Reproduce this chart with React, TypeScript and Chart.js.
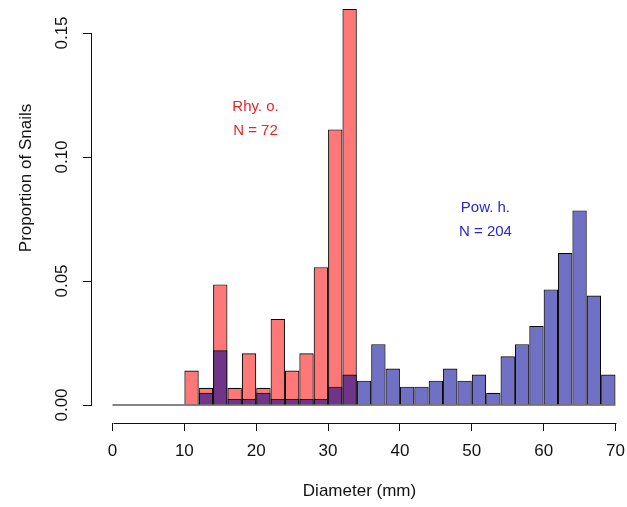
import React, { useEffect, useRef } from "react";
import { Chart, registerables } from "chart.js";

Chart.register(...registerables);

// ---- Data ----
const BIN_WIDTH = 2; // mm
const N_RHY = 72;
const N_POW = 204;
// bin centres (mm)
const rhyBins = [11, 13, 15, 17, 19, 21, 23, 25, 27, 29, 31, 33];
const rhyCounts = [2, 1, 7, 1, 3, 1, 5, 2, 3, 8, 16, 23];
const powBins = [
  13, 15, 17, 19, 21, 23, 25, 27, 29, 31, 33, 35, 37, 39, 41, 43, 45, 47, 49, 51,
  53, 55, 57, 59, 61, 63, 65, 67, 69,
];
const powCounts = [
  2, 9, 1, 1, 2, 1, 1, 1, 1, 3, 5, 4, 10, 6, 3, 3, 4, 6, 4, 5, 2, 8, 10, 13, 19,
  25, 32, 18, 5,
];
const xTickValues = [0, 10, 20, 30, 40, 50, 60, 70];
const yTickValues = [0, 0.05, 0.1, 0.15];
const baseLine = [0, 70];

const RHY_LABEL = ["Rhy. o.", "N = 72"];
const RHY_LABEL_POS = { x: 19.9, y: 0.1155 };
const POW_LABEL = ["Pow. h.", "N = 204"];
const POW_LABEL_POS = { x: 51.9, y: 0.0745 };

const X_TITLE = "Diameter (mm)";
const Y_TITLE = "Proportion of Snails";

// ---- Styles ----
const FONT = "'Liberation Sans', Arial, Helvetica, sans-serif";
const AXIS_COLOR = "#111";
const RED_FILL = "rgba(255,0,0,0.53)";
const BLUE_FILL = "rgba(0,0,150,0.56)";
const BAR_BORDER = "#0a0a0a";

const rStylePlugin = {
  id: "rStyle",
  afterDraw(chart: any) {
    const { ctx, chartArea } = chart;
    const xs = chart.scales.x;
    const ys = chart.scales.y;
    ctx.save();
    ctx.strokeStyle = AXIS_COLOR;
    ctx.lineWidth = 1;
    // x axis line
    const xa0 = xs.getPixelForValue(xTickValues[0]);
    const xa1 = xs.getPixelForValue(xTickValues[xTickValues.length - 1]);
    const yLine = Math.round(chartArea.bottom) + 0.5;
    ctx.beginPath();
    ctx.moveTo(Math.round(xa0) + 0.5, yLine);
    ctx.lineTo(Math.round(xa1) + 0.5, yLine);
    ctx.stroke();
    // y axis line
    const ya0 = ys.getPixelForValue(yTickValues[0]);
    const ya1 = ys.getPixelForValue(yTickValues[yTickValues.length - 1]);
    const xLine = Math.round(chartArea.left) - 0.5;
    ctx.beginPath();
    ctx.moveTo(xLine, Math.round(ya0) + 0.5);
    ctx.lineTo(xLine, Math.round(ya1) + 0.5);
    ctx.stroke();

    // annotations
    ctx.font = `15px ${FONT}`;
    ctx.textAlign = "center";
    ctx.textBaseline = "middle";
    const lh = 24;
    const drawLabel = (lines: string[], pos: any, color: string) => {
      const cx = xs.getPixelForValue(pos.x);
      const cy = ys.getPixelForValue(pos.y);
      ctx.fillStyle = color;
      lines.forEach((t, i) => {
        ctx.fillText(t, cx, cy + (i - (lines.length - 1) / 2) * lh);
      });
    };
    drawLabel(RHY_LABEL, RHY_LABEL_POS, "rgb(228,40,40)");
    drawLabel(POW_LABEL, POW_LABEL_POS, "rgb(40,40,205)");

    // y title
    ctx.fillStyle = "#111";
    ctx.font = `17px ${FONT}`;
    ctx.translate(26, 178);
    ctx.rotate(-Math.PI / 2);
    ctx.fillText(Y_TITLE, 0, 0);
    ctx.restore();
  },
};

export default function App() {
  const ref = useRef<HTMLCanvasElement | null>(null);
  useEffect(() => {
    if (!ref.current) return;
    const pxPerX = 503 / 70;
    const xMin = -20.5 / pxPerX;
    const xMax = xMin + 535 / pxPerX;
    const pxPerY = 2480;
    const yMin = -18 / pxPerY;
    const yMax = yMin + 423 / pxPerY;

    const rhyData = rhyBins.map((b, i) => ({ x: b, y: rhyCounts[i] / (N_RHY * BIN_WIDTH) }));
    const powData = powBins.map((b, i) => ({ x: b, y: powCounts[i] / (N_POW * BIN_WIDTH) }));

    const chart = new Chart(ref.current, {
      type: "bar",
      data: {
        datasets: [
          {
            type: "line",
            data: baseLine.map((v) => ({ x: v, y: 0 })),
            borderColor: BAR_BORDER,
            borderWidth: 1,
            pointRadius: 0,
            order: 0,
          } as any,
          {
            label: "Rhy. o.",
            data: rhyData,
            backgroundColor: RED_FILL,
            borderColor: BAR_BORDER,
            borderWidth: 1.1,
            order: 2,
          },
          {
            label: "Pow. h.",
            data: powData,
            backgroundColor: BLUE_FILL,
            borderColor: BAR_BORDER,
            borderWidth: 1.1,
            order: 1,
          },
        ],
      },
      options: {
        animation: false,
        responsive: true,
        maintainAspectRatio: false,
        layout: { padding: 0 },
        datasets: {
          bar: {
            grouped: false,
            barPercentage: 1,
            categoryPercentage: 1,
            inflateAmount: 0,
          } as any,
        },
        plugins: {
          legend: { display: false },
          tooltip: { enabled: false },
        },
        scales: {
          x: {
            type: "linear",
            min: xMin,
            max: xMax,
            offset: false,
            afterFit: (s: any) => {
              s.height = 84;
              s.paddingLeft = 0;
              s.paddingRight = 0;
            },
            border: { display: false },
            grid: {
              display: true,
              offset: false,
              drawOnChartArea: false,
              drawTicks: true,
              tickLength: 8,
              color: AXIS_COLOR,
              lineWidth: 1,
            },
            ticks: {
              stepSize: 10,
              includeBounds: false,
              autoSkip: false,
              maxRotation: 0,
              padding: 10,
              color: "#111",
              font: { family: FONT, size: 17 },
              callback: (v: any) => String(v),
            },
            title: {
              display: true,
              text: X_TITLE,
              color: "#111",
              font: { family: FONT, size: 17 },
              padding: { top: 0, bottom: 5 },
            },
          },
          y: {
            type: "linear",
            min: yMin,
            max: yMax,
            afterFit: (s: any) => {
              s.width = 92;
              s.paddingTop = 0;
              s.paddingBottom = 0;
            },
            border: { display: false },
            grid: {
              display: true,
              offset: false,
              drawOnChartArea: false,
              drawTicks: true,
              tickLength: 9,
              color: AXIS_COLOR,
              lineWidth: 1,
            },
            ticks: {
              stepSize: 0.05,
              includeBounds: false,
              minRotation: 90,
              maxRotation: 90,
              crossAlign: "center",
              padding: 4,
              color: "#111",
              font: { family: FONT, size: 17 },
              callback: (v: any) => Number(v).toFixed(2),
            },
          },
        },
      },
      plugins: [rStylePlugin],
    });
    return () => chart.destroy();
  }, []);

  return (
    <div
      style={{
        position: "fixed",
        left: 0,
        top: 0,
        width: 627,
        height: 507,
        background: "#fff",
      }}
    >
      <canvas ref={ref} />
    </div>
  );
}
